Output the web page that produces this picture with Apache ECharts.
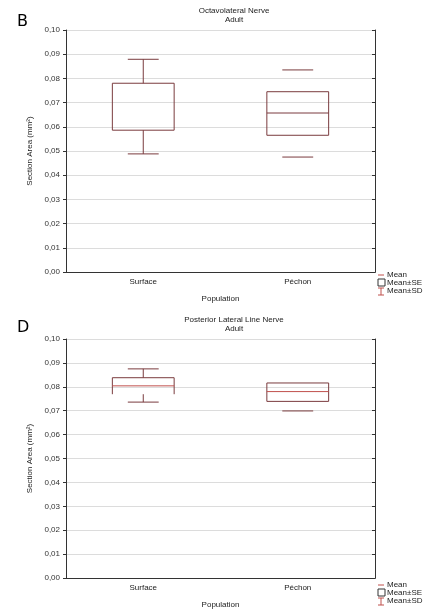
<!DOCTYPE html>
<html>
<head>
<meta charset="utf-8">
<script src="https://cdn.jsdelivr.net/npm/echarts@6/dist/echarts.min.js"></script>
<style>
  html, body { margin: 0; padding: 0; background: #fff; }
  #chart { width: 433px; height: 610px; }
</style>
</head>
<body>
<div id="chart"></div>
<script>
// categories and tick labels
var categories = ['Surface', 'Péchon'];
var yTicks = [0, 0.01, 0.02, 0.03, 0.04, 0.05, 0.06, 0.07, 0.08, 0.09, 0.1];

// panel B - Octavolateral Nerve
var bMean = [null, 0.0657];
var bSeLow = [0.0586, 0.0565];
var bSeHigh = [0.0780, 0.0745];
var bSdLow = [0.0488, 0.0475];
var bSdHigh = [0.0879, 0.0835];
var bStem = [true, false];
var bClosed = [true, true];

// panel D - Posterior Lateral Line Nerve
var dMean = [0.0804, 0.0780];
var dSeLow = [0.0769, 0.0739];
var dSeHigh = [0.0838, 0.0816];
var dSdLow = [0.0736, 0.0699];
var dSdHigh = [0.0875, null];
var dStem = [true, false];
var dClosed = [false, true];

var boxColor = '#7a3b3e';
var font = 'Liberation Sans';

function rows(mean, seL, seH, sdL, sdH, stem, closed) {
  return categories.map(function (c, i) {
    return [i, mean[i], seL[i], seH[i], sdL[i], sdH[i], stem[i] ? 1 : 0, closed[i] ? 1 : 0];
  });
}

function makeRender(meanColor) {
  return function (params, api) {
    var i = api.value(0);
    var band = api.size([1, 0])[0];
    var bw = band * 0.2, cw = band * 0.1;
    var x = api.coord([i, 0])[0];
    var y = function (v) { return api.coord([i, v])[1]; };
    var seL = y(api.value(2)), seH = y(api.value(3));
    var kids = [];
    var line = function (x1, y1, x2, y2, col) {
      kids.push({ type: 'line', shape: { x1: x1, y1: y1, x2: x2, y2: y2 },
        style: { stroke: col || boxColor, lineWidth: 1 } });
    };
    // box
    line(x - bw, seH, x + bw, seH);
    line(x - bw, seH, x - bw, seL);
    line(x + bw, seH, x + bw, seL);
    if (api.value(7)) line(x - bw, seL, x + bw, seL);
    // whiskers
    var sdL = api.value(4), sdH = api.value(5);
    var stem = api.value(6);
    if (!isNaN(sdH) && sdH != null) {
      line(x - cw, y(sdH), x + cw, y(sdH));
      if (stem) line(x, y(sdH), x, seH);
    }
    if (!isNaN(sdL) && sdL != null) {
      line(x - cw, y(sdL), x + cw, y(sdL));
      if (stem) line(x, seL, x, y(sdL));
    }
    var m = api.value(1);
    if (!isNaN(m) && m != null) line(x - bw, y(m), x + bw, y(m), meanColor);
    return { type: 'group', children: kids };
  };
}

var grids = [
  { left: 66, top: 30, width: 309, height: 242 },
  { left: 66, top: 339, width: 309, height: 243 }
];

var xAxes = [], yAxes = [];
grids.forEach(function (g, k) {
  xAxes.push({
    type: 'category', gridIndex: k, data: categories, position: 'bottom',
    name: 'Population', nameLocation: 'middle', nameGap: 23,
    nameTextStyle: { fontFamily: font, fontSize: 8, color: '#222' },
    axisLine: { lineStyle: { color: '#333', width: 1 } },
    axisTick: { alignWithLabel: true, length: 3, lineStyle: { color: '#333' } },
    axisLabel: { fontFamily: font, fontSize: 8, color: '#222', margin: 6 }
  });
  xAxes.push({
    type: 'category', gridIndex: k, data: categories, position: 'top',
    axisLine: { lineStyle: { color: '#333', width: 1 } },
    axisTick: { alignWithLabel: true, inside: true, length: 3, lineStyle: { color: '#333' } },
    axisLabel: { show: false }
  });
  yAxes.push({
    type: 'value', gridIndex: k, min: 0, max: 0.1, interval: 0.01, position: 'left',
    name: 'Section Area (mm²)', nameLocation: 'middle', nameGap: 28,
    nameTextStyle: { fontFamily: font, fontSize: 8, color: '#222' },
    axisLine: { show: true, lineStyle: { color: '#333', width: 1 } },
    axisTick: { show: true, length: 3, lineStyle: { color: '#333' } },
    axisLabel: {
      fontFamily: font, fontSize: 8, color: '#333', margin: 6,
      formatter: function (v) { return v.toFixed(2).replace('.', ','); }
    },
    splitLine: { show: true, lineStyle: { color: '#dcdcdc', width: 1 } }
  });
  yAxes.push({
    type: 'value', gridIndex: k, min: 0, max: 0.1, interval: 0.01, position: 'right',
    axisLine: { show: true, lineStyle: { color: '#333', width: 1 } },
    axisTick: { show: true, inside: true, length: 3, lineStyle: { color: '#333' } },
    axisLabel: { show: false },
    splitLine: { show: false }
  });
});

function legend(top) {
  var x = 378, t = [], red = '#c0504d';
  t.push({ type: 'line', shape: { x1: x, y1: top, x2: x + 6, y2: top }, style: { stroke: red, lineWidth: 1 } });
  t.push({ type: 'text', x: x + 9, y: top, style: { text: 'Mean', font: '8px ' + font, fill: '#222', verticalAlign: 'middle' } });
  t.push({ type: 'rect', shape: { x: x, y: top + 4, width: 7, height: 7 }, style: { fill: '#fff', stroke: '#333', lineWidth: 1 } });
  t.push({ type: 'text', x: x + 9, y: top + 8, style: { text: 'Mean±SE', font: '8px ' + font, fill: '#222', verticalAlign: 'middle' } });
  t.push({ type: 'line', shape: { x1: x, y1: top + 13, x2: x + 6, y2: top + 13 }, style: { stroke: red, lineWidth: 1 } });
  t.push({ type: 'line', shape: { x1: x + 3, y1: top + 13, x2: x + 3, y2: top + 20 }, style: { stroke: red, lineWidth: 1 } });
  t.push({ type: 'line', shape: { x1: x, y1: top + 20, x2: x + 6, y2: top + 20 }, style: { stroke: red, lineWidth: 1 } });
  t.push({ type: 'text', x: x + 9, y: top + 16, style: { text: 'Mean±SD', font: '8px ' + font, fill: '#222', verticalAlign: 'middle' } });
  return t;
}

var chart = echarts.init(document.getElementById('chart'));
chart.setOption({
  backgroundColor: '#fff',
  animation: false,
  title: [
    { text: 'Octavolateral Nerve', subtext: 'Adult', left: 229, top: 2, textAlign: 'center', itemGap: 1,
      textStyle: { fontFamily: font, fontSize: 8, fontWeight: 'normal', color: '#222' },
      subtextStyle: { fontFamily: font, fontSize: 8, color: '#222' } },
    { text: 'Posterior Lateral Line Nerve', subtext: 'Adult', left: 229, top: 311, textAlign: 'center', itemGap: 1,
      textStyle: { fontFamily: font, fontSize: 8, fontWeight: 'normal', color: '#222' },
      subtextStyle: { fontFamily: font, fontSize: 8, color: '#222' } },
    { text: 'B', left: 12, top: 9, textStyle: { fontFamily: 'DejaVu Sans', fontSize: 16, fontWeight: 'normal', color: '#000' } },
    { text: 'D', left: 12, top: 315, textStyle: { fontFamily: 'DejaVu Sans', fontSize: 16, fontWeight: 'normal', color: '#000' } }
  ],
  grid: grids,
  xAxis: xAxes,
  yAxis: yAxes,
  graphic: legend(275).concat(legend(585)),
  series: [
    { type: 'custom', xAxisIndex: 0, yAxisIndex: 0, renderItem: makeRender(boxColor),
      data: rows(bMean, bSeLow, bSeHigh, bSdLow, bSdHigh, bStem, bClosed) },
    { type: 'custom', xAxisIndex: 2, yAxisIndex: 2, renderItem: makeRender('#c0504d'),
      data: rows(dMean, dSeLow, dSeHigh, dSdLow, dSdHigh, dStem, dClosed) }
  ]
});
</script>
</body>
</html>
